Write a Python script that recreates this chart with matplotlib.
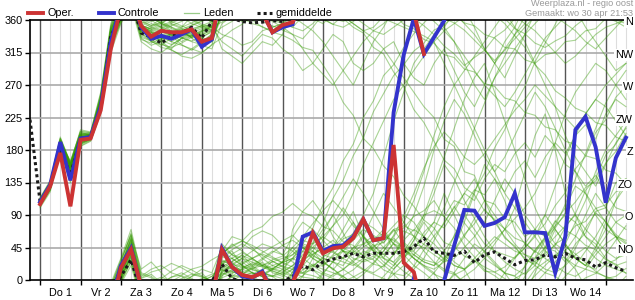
import numpy as np
import matplotlib
matplotlib.use("Agg")
import matplotlib.pyplot as plt
from matplotlib.lines import Line2D
import matplotlib.transforms as mtransforms

plt.rcParams['font.family'] = ['Liberation Sans', 'DejaVu Sans']

# time axis: hours after day 1 00:00, 6-hourly
hours = np.arange(0, 349, 6)
day_labels = ['Do 1', 'Vr 2', 'Za 3', 'Zo 4', 'Ma 5', 'Di 6', 'Wo 7',
              'Do 8', 'Vr 9', 'Za 10', 'Zo 11', 'Ma 12', 'Di 13', 'Wo 14']
dir_labels = ['N', 'NW', 'W', 'ZW', 'Z', 'ZO', 'O', 'NO']
dir_values = [360, 315, 270, 225, 180, 135, 90, 45]

# operational run (ends after day 10)
oper = [105, 130, 176, 102, 194, 196, 235, 320, 17, 42,
        352, 337, 345, 343, 343, 347, 330, 335, 42, 18,
        7, 4, 10, 343, 353, 357, 25, 65, 37, 44,
        46, 58, 84, 55, 58, 187, 24, 11, 313]

controle = [108, 132, 191, 138, 196, 198, 240, 330, 20, 44,
            350, 334, 338, 334, 340, 347, 323, 333, 44, 18,
            5, 3, 12, 343, 350, 354, 60, 66, 40, 47,
            48, 60, 84, 55, 58, 232, 312, 2, 313, 336,
            359, 48, 97, 96, 75, 79, 87, 120, 66, 66,
            65, 10, 60, 208, 226, 184, 107, 169, 197]

# ensemble mean starts 6 h earlier
mean_hours = np.arange(-6, 349, 6)
gemiddelde = [222, 108, 130, 182, 145, 196, 198, 237, 338, 5,
              28, 342, 336, 328, 338, 342, 350, 335, 358, 22,
              2, 358, 356, 357, 359, 358, 5, 20, 14, 25,
              29, 32, 37, 32, 37, 37, 37, 39, 46, 58,
              39, 37, 34, 40, 24, 35, 39, 30, 21, 27,
              28, 35, 32, 37, 30, 28, 18, 24, 17, 12]

leden = [
    [108,130,188,155,198,200,245,340, 10,45, 350,330,340,335,345,350,330,340, 20,15,5,10,5,350,355,
     10,40,60,35,45,60,80,50,55,70,40,30,45,60, 80,120,90,60,45,30,50,70,100,150,200,230,180,120,90,60,45,70,110,140],
    [112,135,195,160,200,202,250,345, 20,55, 355,340,330,320,335,345,325,330, 30,40,20,15,25,10,5,
     15,25,50,70,90,65,40,35,50,30,20,35,55,80, 60,40,25,15,350,320,300,280,310,340,10,40,70,50,30,20,45,80,60,40],
    [104,126,180,140,190,195,235,325, 5,30, 340,335,345,340,330,338,345,350, 330,320,310,325,340,335,320,
     310,290,300,320,340,330,300,290,300,320,330,300,280,270, 300,320,290,260,240,270,300,330,350,20,40,60,45,30,15,350,330,310,290,300],
    [110,132,190,165,205,200,255,350, 25,65, 5,15,20,10,5,355,350,345, 35,50,40,30,20,15,25,
     45,30,20,10,5,15,25,40,35,30,25,40,60,90, 130,170,210,250,280,300,260,220,180,140,100,70,50,40,60,90,120,100,80,70],
    [100,122,178,135,185,192,230,315, 355,20, 330,320,315,325,335,340,330,338, 5,25,35,20,10,5,355,
     350,5,30,55,75,100,80,60,40,55,70,50,35,25, 20,30,45,80,120,160,140,110,70,50,40,30,20,10,5,15,35,50,60,40],
    [106,128,185,150,195,198,242,335, 15,50, 345,338,332,342,348,335,340,345, 25,30,20,10,5,5,15,
     30,45,30,20,35,50,65,90,120,170,220,260,300,320, 340,350,10,30,50,40,25,10,350,330,300,270,240,200,170,150,130,160,190,210],
    [114,138,198,162,208,205,260,355, 30,70, 10,5,355,350,345,340,335,345, 40,60,55,45,30,20,15,
     5,355,345,330,310,290,270,300,330,350,15,30,50,45, 35,25,30,45,60,80,110,140,120,90,70,60,75,90,80,60,50,30,20,25],
    [103,125,182,145,188,194,238,328, 0,35, 350,345,340,330,325,320,315,325, 15,10,15,20,30,40,35,
     60,80,70,55,40,30,45,50,40,35,50,45,30,20, 10,350,330,300,270,250,280,310,340,5,30,55,80,100,130,120,100,80,60,50],
    [109,133,192,158,202,203,248,342, 12,48, 352,348,355,345,340,345,350,355, 10,20,30,40,50,45,35,
     25,15,20,30,25,40,55,70,60,45,35,60,90,130, 180,220,250,230,200,170,150,120,100,80,60,40,30,50,80,110,150,180,200,220],
    [107,129,186,152,196,199,244,338, 8,42, 348,342,338,336,344,352,358,5, 15,25,10,0,350,345,355,
     5,20,35,45,55,40,25,15,10,20,35,55,70,60, 50,35,20,15,30,45,60,50,40,35,30,45,60,75,90,70,55,40,30,35],
    [111,134,193,160,201,201,252,347, 18,58, 358,350,345,352,358,5,10,355, 50,35,25,15,10,5,10,
     20,35,40,30,25,20,40,60,90,120,100,80,60,40, 25,15,10,355,340,320,300,320,340,355,15,25,35,30,20,15,10,5,0,355],
    [105,127,183,148,192,196,240,332, 3,38, 342,330,325,335,340,348,352,350, 340,335,325,330,345,350,355,
     70,95,110,90,60,40,30,25,30,45,60,80,110,150, 200,240,270,290,310,330,350,10,30,50,70,90,70,50,30,20,40,60,80,90],
    [113,136,196,163,206,204,258,352, 28,62, 15,25,10,355,350,5,15,10, 45,35,30,25,20,15,10,
     5,10,20,15,10,5,355,345,350,5,20,40,35,25, 20,40,60,90,70,50,40,35,30,45,60,90,130,170,200,230,250,240,220,200],
    [102,124,179,138,186,193,233,320, 358,25, 335,325,330,340,345,335,325,320, 355,5,15,10,5,0,355,
     350,345,355,10,25,15,5,355,345,340,350,0,15,30, 55,80,100,120,140,110,80,60,45,30,20,10,5,355,345,330,320,335,350,5],
    [108,131,189,156,199,200,246,341, 13,47, 347,343,336,330,338,342,348,352, 22,30,38,30,20,25,30,
     35,50,45,35,30,25,20,30,45,60,75,90,80,60, 40,30,20,15,25,40,55,70,85,100,120,150,190,230,260,280,300,290,270,250],
    [110,133,191,157,200,201,249,343, 16,52, 355,0,350,345,340,338,342,348, 28,20,12,8,15,20,25,
     40,55,50,60,75,90,120,160,190,220,250,270,290,310, 330,345,355,5,15,30,20,10,5,355,345,330,315,300,310,325,340,350,355,0],
    [104,127,181,142,189,195,236,327, 2,33, 338,332,326,322,328,336,344,350, 8,12,18,22,18,12,8,
     15,30,45,60,50,40,35,45,55,65,50,40,30,20, 15,25,40,60,85,110,90,70,50,35,25,15,10,20,35,45,30,20,15,10],
    [106,129,184,147,194,197,241,334, 9,43, 344,336,328,318,312,320,330,340, 350,358,8,18,28,38,48,
     55,45,35,25,15,5,355,345,335,320,300,280,260,240, 225,195,185,150,145,110,105,85,80,60,70,45,40,25,50,65,95,100,135,140],
    [112,135,194,161,203,202,253,348, 22,60, 2,8,356,348,342,346,352,358, 32,42,50,42,34,26,18,
     10,4,2,355,8,14,28,33,47,52,68,72,88,96, 110,88,72,48,32,14,6,355,338,322,298,284,262,252,238,232,218,214,198,192],
    [107,130,187,153,197,199,243,337, 11,46, 346,340,334,338,342,338,334,330, 12,18,24,30,36,30,24,
     18,10,14,2,354,350,358,8,22,18,35,52,40,66, 80,72,95,120,110,140,160,150,175,190,170,200,185,160,150,130,145,120,100,95],
    [105,129,186,151,195,198,239,333, 6,40, 349,345,350,356,2,8,4,358, 18,26,34,28,22,16,12,
     20,28,36,44,38,30,22,14,8,2,356,350,344,338, 330,300,270,240,210,180,150,170,200,230,260,240,210,180,150,120,90,70,60,55],
    [109,132,190,156,199,201,247,340, 14,50, 351,347,343,339,335,331,337,343, 26,22,18,14,10,6,2,
     358,6,18,32,40,57,63,80,72,60,55,44,39,28, 24,12,8,356,352,340,335,322,320,305,300,312,315,330,332,345,348,2,5,16],
    [103,126,181,143,190,195,234,324, 359,28, 333,328,334,341,336,330,326,333, 3,9,16,24,19,13,7,
     1,14,22,19,33,40,38,50,62,51,70,75,68,90, 96,88,110,104,125,118,140,122,150,165,142,170,190,175,200,215,195,230,250,240],
    [111,134,192,159,202,202,251,346, 20,56, 0,352,356,4,10,2,354,350, 38,46,54,48,40,32,24,
     30,50,72,104,128,165,188,225,248,283,298,322,341,356, 10,28,42,63,78,98,82,71,58,52,38,57,72,93,108,128,137,162,178,203],
    [106,131,187,154,197,199,243,336, 7,44, 340,350,358,350,342,336,344,352, 12,22,30,18,8,358,350,
     340,320,300,285,270,290,310,330,345,355,8,20,35,50, 70,100,135,170,210,245,280,300,320,340,355,10,25,40,30,20,15,35,55,75],
    [108,129,184,149,193,197,238,331, 4,36, 345,352,2,12,20,14,6,358, 320,310,300,315,330,325,340,
     12,25,40,65,90,115,140,120,95,70,50,35,20,10, 358,345,330,310,290,270,255,240,260,285,310,335,350,5,20,40,60,85,110,130],
    [105,128,183,146,191,196,237,329, 1,32, 348,355,350,338,326,318,328,338, 6,14,22,30,38,46,54,
     62,48,40,24,16,2,350,342,322,313,288,268,236,218, 192,166,154,128,118,96,84,58,47,28,22,37,48,73,92,124,141,173,188,212],
    [110,133,190,158,201,200,250,344, 17,53, 353,347,352,358,6,0,352,346, 24,16,10,4,358,352,346,
     340,334,350,8,26,44,38,30,22,40,62,88,120,155, 185,205,190,170,160,175,195,215,235,250,270,255,240,225,210,230,250,270,285,300],
    [104,127,182,144,190,195,236,328, 3,34, 343,336,332,326,334,338,346,351, 357,4,8,16,20,28,33,
     45,60,78,96,110,95,75,60,48,36,24,12,2,352, 340,324,313,297,308,318,336,346,2,10,26,33,50,58,75,81,99,104,122,128],
    [109,132,189,155,198,200,246,339, 12,47, 350,344,338,344,350,356,2,8, 14,7,3,355,351,343,339,
     332,322,318,298,276,246,228,196,182,158,143,117,102,83, 72,52,46,33,27,12,11,18,32,44,63,78,103,121,154,171,204,222,253,268],
    [107,130,186,151,196,198,241,334, 9,41, 352,358,4,358,352,346,340,346, 22,36,44,60,68,62,48,
     40,28,52,78,113,138,172,197,233,258,283,298,317,328, 346,353,7,14,27,18,11,2,348,341,328,322,331,338,352,3,9,22,28,42],
    [111,134,193,160,202,202,252,346, 19,57, 3,11,15,23,17,9,5,358, 40,30,20,10,5,15,25,
     35,46,33,27,14,31,44,62,43,31,52,68,61,49, 42,28,62,88,123,148,183,208,243,268,302,328,354,22,44,72,93,81,63,52],
    [103,125,180,141,188,194,233,323, 357,26, 336,331,322,319,310,307,314,326, 335,346,354,6,13,26,19,
     15,9,6,1,354,6,14,27,33,21,9,6,19,42, 61,78,102,79,62,38,22,9,6,18,42,58,82,69,61,48,42,28,22,9],
    [112,136,196,162,205,204,256,350, 26,63, 8,3,355,4,7,15,19,28, 36,48,54,68,74,88,94,
     106,94,88,74,68,53,48,33,28,14,8,354,348,333, 328,312,308,292,288,272,268,252,248,232,228,212,208,192,188,172,168,152,148,132],
    [106,128,184,149,194,197,240,333, 8,40, 344,340,348,354,348,342,336,330, 10,4,358,2,8,14,20,
     28,40,30,22,45,70,95,60,40,25,15,30,55,85, 120,160,140,110,85,60,40,25,15,8,20,45,75,105,140,175,210,245,270,290],
    [108,131,188,153,198,199,244,337, 11,45, 349,343,337,341,347,353,359,5, 18,12,6,2,8,16,24,
     30,22,14,8,2,358,4,12,24,40,58,44,30,18, 8,2,356,346,332,318,304,318,334,350,6,20,34,46,36,24,12,4,358,350],
]


def plot_wrapped(ax, x, vals, **kw):
    # wind direction: unwrap and draw shifted copies, axes clip at 0/360
    u = np.unwrap(np.asarray(vals, dtype=float), period=360)
    for k in range(-3, 4):
        ax.plot(x, u + 360 * k, **kw)


fig = plt.figure(figsize=(6.35, 3.0), dpi=100)
ax = fig.add_axes([30 / 635, 20 / 300, 603 / 635, 260 / 300])
ax.set_xlim(-6, 352.2)
ax.set_ylim(0, 360)

# grid
for h in range(-6, 353, 6):
    if h % 24 == 0:
        ax.axvline(h, color='#555555', lw=1.0, zorder=1)
    else:
        ax.axvline(h, color='#dddddd', lw=0.8, zorder=0)
for v in range(45, 360, 45):
    ax.axhline(v, color='#aaaaaa', lw=1.2, zorder=1)

green = '#339900'
for m in leden:
    plot_wrapped(ax, hours[:len(m)], m, color=green, lw=0.8, alpha=0.42, zorder=2)

plot_wrapped(ax, mean_hours, gemiddelde, color='#1a1a1a', lw=2.2,
             linestyle=(0, (1, 1)), zorder=3)
plot_wrapped(ax, hours[:len(controle)], controle, color='#3333cc', lw=2.8,
             solid_joinstyle='miter', zorder=4)
plot_wrapped(ax, hours[:len(oper)], oper, color='#cc3333', lw=2.8,
             solid_joinstyle='miter', zorder=5)

# axes look
for s in ['left', 'top', 'bottom']:
    ax.spines[s].set_color('black')
    ax.spines[s].set_linewidth(1.2)
ax.spines['right'].set_visible(False)

ax.set_yticks(range(0, 361, 45))
ax.tick_params(axis='y', length=3.6, width=1, pad=1.5, labelsize=7.8)
ax.set_xticks(range(0, 337, 24))
ax.set_xticklabels([])
ax.set_xticks(np.arange(12, 337, 24), minor=True)
ax.set_xticklabels(day_labels, minor=True)
ax.tick_params(axis='x', which='major', length=3.6, width=1)
ax.tick_params(axis='x', which='minor', length=0, pad=5.5, labelsize=7.8)

# compass labels on the right
trans = mtransforms.blended_transform_factory(ax.transAxes, ax.transData)
for lab, v in zip(dir_labels, dir_values):
    ax.text(1.0, v - 3, lab, transform=trans, ha='right', va='center',
            fontsize=7.8, zorder=10,
            bbox=dict(facecolor='white', edgecolor='none', pad=0.6))

# legend drawn by hand along the top
legend_items = [('Oper.', '#cc3333', 2.8, '-', 28),
                ('Controle', '#3333cc', 2.8, '-', 99),
                ('Leden', '#99cc88', 0.9, '-', 184),
                ('gemiddelde', '#1a1a1a', 2.2, (0, (1, 1)), 257)]
for name, col, lw, ls, x0 in legend_items:
    fig.add_artist(Line2D([x0 / 635, (x0 + 15) / 635], [1 - 13 / 300] * 2,
                          color=col, lw=lw, linestyle=ls))
    fig.text((x0 + 19) / 635, 1 - 13 / 300, name, fontsize=7.8,
             va='center', ha='left')

fig.text(633 / 635, 1 - 4 / 300, 'Weerplaza.nl - regio oost', fontsize=6.6,
         color='#999999', ha='right', va='center')
fig.text(633 / 635, 1 - 13 / 300, 'Gemaakt: wo 30 apr 21:53', fontsize=6.6,
         color='#999999', ha='right', va='center')

fig.savefig('out.png', dpi=100)
